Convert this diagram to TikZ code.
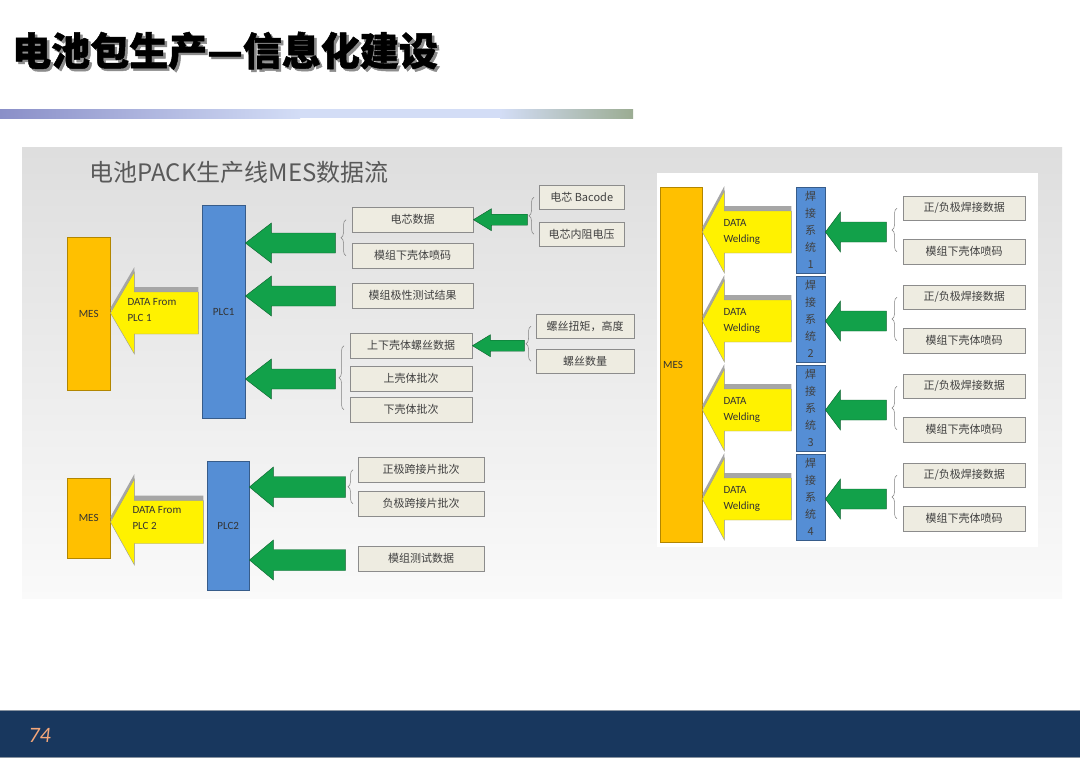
\documentclass[tikz,border=0pt]{standalone}
\usepackage{fontspec}
\setmainfont{Carlito}
\newfontfamily\cjk{Noto Sans CJK SC}
\newfontfamily\titlefont[BoldFeatures={FakeBold=1.2}]{Noto Sans CJK SC}
\usetikzlibrary{positioning,decorations.pathreplacing,shadows}

\definecolor{mesorange}{HTML}{FFC000}
\definecolor{plcblue}{HTML}{558ED5}
\definecolor{flowgreen}{HTML}{12A14A}
\definecolor{boxfill}{HTML}{EEECE1}
\definecolor{footnavy}{HTML}{18375E}
\definecolor{pagenum}{HTML}{F4A77A}
\definecolor{barleft}{HTML}{8A8FC8}
\definecolor{barmid}{HTML}{D3DDF6}
\definecolor{barright}{HTML}{9BAC92}

% block arrow pointing left: style, tip, length, head length, head half, shaft half
\newcommand\blockarrow[6]{%
  \draw[#1] (#2) -- ++(#4,-#5) -- ++(0,#5-#6) -- ++(#3-#4,0) -- ++(0,2*#6)
    -- ++(#4-#3,0) -- ++(0,#5-#6) -- cycle;}
\newcommand\titletext{电池包生产—信息化建设}

\tikzset{
  mes/.style={draw=mesorange!70!black, fill=mesorange, anchor=north west, minimum width=43pt,
    inner sep=0pt, font=\fontsize{11}{13}\selectfont, text=black!80},
  plc/.style={draw=plcblue!65!black, fill=plcblue, anchor=north west, minimum width=43pt,
    inner sep=0pt, font=\fontsize{11}{13}\selectfont, text=black!80},
  weldbox/.style={draw=plcblue!65!black, fill=plcblue, anchor=north west, minimum width=29pt,
    minimum height=86pt, inner sep=0pt, align=center, font=\cjk\fontsize{11}{17}\selectfont, text=black!75},
  databox/.style={draw=black!45, fill=boxfill, anchor=north west, minimum width=121pt,
    minimum height=25pt, inner sep=0pt, font=\cjk\fontsize{11}{13}\selectfont, text=black!75,
    drop shadow={shadow xshift=1pt, shadow yshift=-1pt, opacity=0.3}},
  yarrow/.style={fill=yellow, draw=black!40, line width=0.4pt},
  yshade/.style={fill=black!35, draw=none, shift={(-4,-5)}},
  garrow/.style={fill=flowgreen, draw=flowgreen!60!black, line width=0.4pt},
  arrtext/.style={anchor=west, align=left, font=\fontsize{11}{16}\selectfont, text=black!80},
  brc/.style={decorate, decoration={brace, amplitude=5pt}, draw=black!50, line width=0.5pt}
}

\begin{document}
\begin{tikzpicture}[x=1pt, y=-1pt]
\useasboundingbox (0,0) rectangle (1080,764);
\fill[white] (0,0) rectangle (1080,764);

% title and bar
\node[anchor=west, inner sep=0pt, font=\titlefont\bfseries\fontsize{39}{41}\selectfont] (title) at (12,52)
  {\rlap{\hspace{2.5pt}\raisebox{-2.5pt}{\textcolor{black!45}{\titletext}}}\titletext};
\shade[left color=barleft, right color=barmid] (0,109) rectangle (300,118);
\fill[barmid] (300,109) rectangle (500,118);
\shade[left color=barmid, right color=barright] (500,109) rectangle (633,118);

% picture panel
\shade[top color=black!13, bottom color=black!2] (22,147) rectangle (1062,598);
\node[anchor=west, font=\cjk\fontsize{24}{26}\selectfont, text=black!65] (sub) at (86,172) {电池PACK生产线MES数据流};

% upper line: PLC1
\node[mes, minimum height=153pt] (mes1) at (67,237) {MES\hspace{6pt}};
\node[plc, minimum height=213pt] (plc1) at (202,205) {PLC1};
\blockarrow{yshade}{mes1.east |- 0,313}{88}{24}{41}{21}
\blockarrow{yarrow}{mes1.east |- 0,313}{88}{24}{41}{21}
\node[arrtext] (dat1) at (124,310) {DATA From\\PLC 1};

\node[databox] (cell) at (352,207) {电芯数据};
\node[databox] (shell1) at (352,243) {模组下壳体喷码};
\node[databox] (polar) at (352,283) {模组极性测试结果};
\node[databox, minimum width=122pt] (screw) at (350,333) {上下壳体螺丝数据};
\node[databox, minimum width=122pt] (upper) at (350,366) {上壳体批次};
\node[databox, minimum width=122pt] (lower) at (350,397) {下壳体批次};
\node[databox, minimum width=85pt, minimum height=24pt] (bacode) at (539,185) {电芯 Bacode};
\node[databox, minimum width=85pt, minimum height=24pt] (resist) at (539,222) {电芯内阻电压};
\node[databox, minimum width=98pt, minimum height=24pt] (torque) at (536,314) {螺丝扭矩，高度};
\node[databox, minimum width=98pt, minimum height=24pt] (count) at (536,349) {螺丝数量};

\blockarrow{garrow}{plc1.east |- 0,243}{90}{26}{20}{10}
\blockarrow{garrow}{plc1.east |- 0,296}{90}{26}{20}{10}
\blockarrow{garrow}{plc1.east |- 0,379}{90}{26}{20}{10}
\blockarrow{garrow}{cell.east}{54}{18}{11}{5.5}
\blockarrow{garrow}{screw.east}{52}{18}{11}{5.5}

\draw[brc] ([xshift=-6pt]shell1.west) -- ([xshift=-6pt]cell.west);
\draw[brc] ([xshift=-6pt]lower.west) -- ([xshift=-6pt]screw.west);
\draw[brc] ([xshift=-5pt]resist.west) -- ([xshift=-5pt]bacode.west);
\draw[brc] ([xshift=-5pt]count.west) -- ([xshift=-5pt]torque.west);

% lower line: PLC2
\node[mes, minimum height=80pt] (mes2) at (67,478) {MES\hspace{6pt}};
\node[plc, minimum width=42pt, minimum height=129pt] (plc2) at (207,461) {PLC2};
\blockarrow{yshade}{mes2.east |- 0,522}{93}{24}{43}{21.5}
\blockarrow{yarrow}{mes2.east |- 0,522}{93}{24}{43}{21.5}
\node[arrtext] (dat2) at (129,518) {DATA From\\PLC 2};

\node[databox, minimum width=126pt] (pos) at (358,457) {正极跨接片批次};
\node[databox, minimum width=126pt] (neg) at (358,491) {负极跨接片批次};
\node[databox, minimum width=126pt] (test) at (358,546) {模组测试数据};
\blockarrow{garrow}{plc2.east |- 0,487}{96}{24}{20}{10.5}
\blockarrow{garrow}{plc2.east |- 0,560}{96}{24}{20}{10.5}
\draw[brc] ([xshift=-5pt]neg.west) -- ([xshift=-5pt]pos.west);

% welding systems
\fill[white] (657,173) rectangle (1038,547);
\node[mes, minimum width=42pt, minimum height=355pt, text width=36pt, align=left] (mesR) at (660,187) {MES\\[-16pt]};
\foreach \k/\n in {0/1,1/2,2/3,3/4} {
  \pgfmathsetmacro\yo{89*\k}
  \pgfmathsetmacro\ya{232+89*\k}
  \node[weldbox] (weld\n) at (796,187+\yo) {焊\\接\\系\\统\\\n};
  \blockarrow{yshade}{mesR.east |- 0,\ya}{89}{22}{41}{21}
  \blockarrow{yarrow}{mesR.east |- 0,\ya}{89}{22}{41}{21}
  \node[arrtext] (datw\n) at (720,\ya) {DATA\\Welding};
  \blockarrow{garrow}{weld\n.east |- 0,\ya}{61}{15}{20}{10}
  \node[databox, minimum width=122pt, minimum height=24pt] (plus\n) at (903,196+\yo) {正/负极焊接数据};
  \node[databox, minimum width=122pt] (shellw\n) at (903,239+\yo) {模组下壳体喷码};
  \draw[brc] ([xshift=-6pt]shellw\n.west) -- ([xshift=-6pt]plus\n.west);
}

% footer
\fill[footnavy] (0,710) rectangle (1080,757);
\draw[black!30!footnavy!50!white, line width=0.8pt] (0,710) -- (1080,710) (0,757) -- (1080,757);
\node[anchor=west, font=\itshape\fontsize{22}{24}\selectfont, text=pagenum] (page) at (25,735) {74};
\end{tikzpicture}
\end{document}
